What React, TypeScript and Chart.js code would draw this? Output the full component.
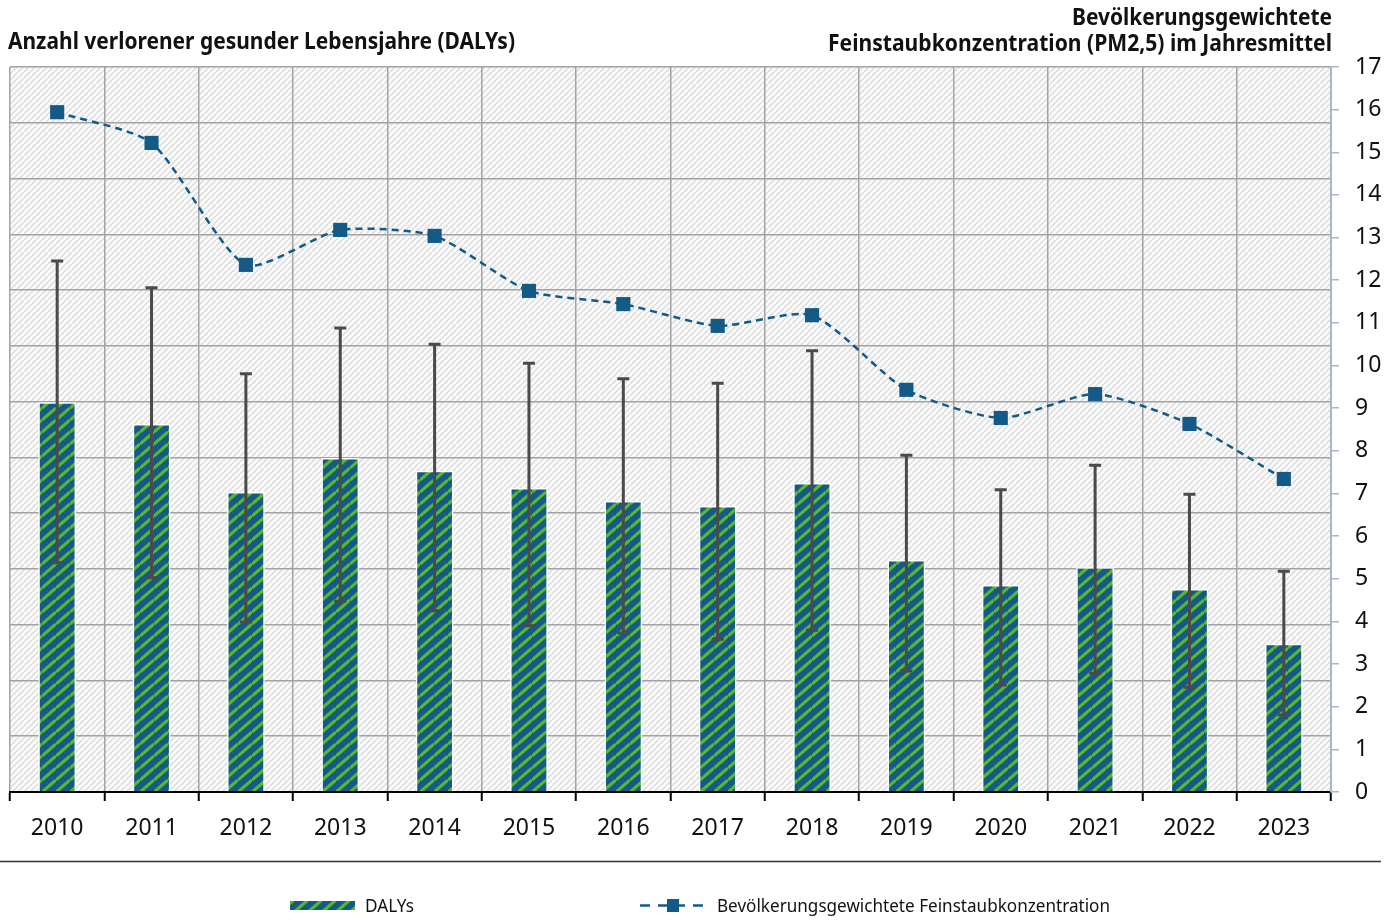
import React, { useEffect, useRef } from "react";
import { Chart, registerables } from "chart.js";

Chart.register(...registerables);

// ---- data ----
const years = ["2010", "2011", "2012", "2013", "2014", "2015", "2016", "2017", "2018", "2019", "2020", "2021", "2022", "2023"];
const dalys = [34950, 33000, 26900, 29950, 28800, 27250, 26100, 25650, 27700, 20800, 18550, 20150, 18200, 13300];
const dalysHigh = [47600, 45200, 37500, 41600, 40150, 38450, 37050, 36650, 39550, 30200, 27100, 29300, 26700, 19800];
const dalysLow = [20550, 19200, 15250, 17100, 16250, 14900, 14250, 13700, 14500, 10850, 9600, 10650, 9400, 6900];
const pm25 = [15.94, 15.22, 12.36, 13.18, 13.04, 11.75, 11.44, 10.93, 11.18, 9.43, 8.77, 9.33, 8.63, 7.34];
const pmTicksMax = 17;
const dalyAxisMax = 65000;
const dalyAxisStep = 5000;

const leftTitle = "Anzahl verlorener gesunder Lebensjahre (DALYs)";
const rightTitle = ["Bevölkerungsgewichtete", "Feinstaubkonzentration (PM2,5) im Jahresmittel"];
const legendLabels = ["DALYs", "Bevölkerungsgewichtete Feinstaubkonzentration"];

const BLUE = "#135b86";
const GREEN = "#5cb531";
const FONT = "'Noto Sans', 'Open Sans', sans-serif";

function makeHatch(bg: string, fg: string, w: number, h: number, lw: number) {
  const c = document.createElement("canvas");
  c.width = w;
  c.height = h;
  const g = c.getContext("2d")!;
  g.fillStyle = bg;
  g.fillRect(0, 0, w, h);
  g.strokeStyle = fg;
  g.lineWidth = lw;
  g.beginPath();
  for (let k = -1; k <= 1; k++) {
    g.moveTo(0, h + h * k);
    g.lineTo(w, h * k);
  }
  g.stroke();
  const ctx = document.createElement("canvas").getContext("2d")!;
  return ctx.createPattern(c, "repeat")!;
}

export default function App() {
  const ref = useRef<HTMLCanvasElement | null>(null);

  useEffect(() => {
    document.body.style.margin = "0";
    const canvas = ref.current!;
    const bgHatch = makeHatch("#fbfbfb", "#dcdcdc", 6, 6, 1.5);
    const barHatch = makeHatch(BLUE, GREEN, 14, 12, 3.2);

    const bgPlugin = {
      id: "bgPlugin",
      beforeDraw(chart: any) {
        const { ctx, chartArea: a } = chart;
        ctx.save();
        ctx.fillStyle = "#ffffff";
        ctx.fillRect(0, 0, chart.width, chart.height);
        ctx.fillStyle = bgHatch;
        ctx.fillRect(a.left, a.top, a.right - a.left, a.bottom - a.top);
        ctx.restore();
      },
    };

    const errPlugin = {
      id: "errPlugin",
      afterDatasetDraw(chart: any, args: any) {
        if (args.index !== 0) return;
        const { ctx } = chart;
        const ys = chart.scales.y;
        const meta = chart.getDatasetMeta(0);
        ctx.save();
        ctx.strokeStyle = "#4a4a4a";
        ctx.lineWidth = 3;
        meta.data.forEach((el: any, i: number) => {
          const x = el.x;
          const yh = ys.getPixelForValue(dalysHigh[i]);
          const yl = ys.getPixelForValue(dalysLow[i]);
          ctx.beginPath();
          ctx.moveTo(x, yh);
          ctx.lineTo(x, yl);
          ctx.moveTo(x - 6, yh);
          ctx.lineTo(x + 6, yh);
          ctx.moveTo(x - 6, yl);
          ctx.lineTo(x + 6, yl);
          ctx.stroke();
        });
        ctx.restore();
      },
    };

    const textPlugin = {
      id: "textPlugin",
      afterDraw(chart: any) {
        const { ctx } = chart;
        ctx.save();
        ctx.fillStyle = "#111";
        ctx.font = `bold 24px ${FONT}`;
        ctx.textBaseline = "alphabetic";
        ctx.textAlign = "left";
        ctx.fillText(leftTitle, 8, 49, 507);
        ctx.textAlign = "right";
        ctx.fillText(rightTitle[0], 1332, 25, 260);
        ctx.fillText(rightTitle[1], 1332, 51, 504);

        // separator
        ctx.strokeStyle = "#333";
        ctx.lineWidth = 1.5;
        ctx.beginPath();
        ctx.moveTo(0, 861.5);
        ctx.lineTo(1381, 861.5);
        ctx.stroke();

        // legend: bars
        ctx.fillStyle = barHatch;
        ctx.fillRect(290, 901, 65, 9);
        ctx.fillStyle = "#111";
        ctx.font = `18px ${FONT}`;
        ctx.textAlign = "left";
        ctx.fillText(legendLabels[0], 365, 912, 49);

        // legend: line
        ctx.strokeStyle = BLUE;
        ctx.lineWidth = 2.5;
        ctx.beginPath();
        ctx.moveTo(640, 905.5);
        ctx.lineTo(650, 905.5);
        ctx.moveTo(658, 905.5);
        ctx.lineTo(685, 905.5);
        ctx.moveTo(693, 905.5);
        ctx.lineTo(703, 905.5);
        ctx.stroke();
        ctx.fillStyle = BLUE;
        ctx.fillRect(667, 899, 12, 13);
        ctx.fillStyle = "#111";
        ctx.fillText(legendLabels[1], 717, 912, 393);
        ctx.restore();
      },
    };

    const chart = new Chart(canvas, {
      data: {
        labels: years,
        datasets: [
          {
            type: "bar",
            label: legendLabels[0],
            data: dalys,
            yAxisID: "y",
            backgroundColor: barHatch as any,
            borderColor: "#ffffff",
            borderWidth: 1.5,
            barPercentage: 0.4,
            categoryPercentage: 1,
            order: 2,
          },
          {
            type: "line",
            label: legendLabels[1],
            data: pm25,
            yAxisID: "y2",
            borderColor: BLUE,
            borderWidth: 2.5,
            borderDash: [7, 5],
            tension: 0.22,
            pointStyle: "rect",
            pointRadius: 10,
            pointBackgroundColor: BLUE,
            pointBorderColor: BLUE,
            pointBorderWidth: 0,
            order: 1,
          },
        ],
      } as any,
      options: {
        responsive: false,
        animation: false,
        layout: { padding: { top: 67, left: 8, right: 0, bottom: 0 } },
        plugins: {
          legend: { display: false },
          tooltip: { enabled: false },
        },
        scales: {
          x: {
            position: "bottom",
            offset: true,
            grid: { color: "#a3a3a3", lineWidth: 1.5, tickColor: "#000", tickLength: 9, tickWidth: 2, offset: true },
            border: { color: "#000", width: 2 },
            ticks: { color: "#111", font: { family: FONT, size: 23 }, padding: 14, maxRotation: 0 },
            afterFit(s: any) {
              s.height = 128;
            },
          },
          y: {
            position: "left",
            min: 0,
            max: dalyAxisMax,
            ticks: { display: false, stepSize: dalyAxisStep },
            grid: { color: "#a3a3a3", lineWidth: 1.5, drawTicks: false },
            border: { display: false },
            afterFit(s: any) {
              s.width = 0;
            },
          },
          y2: {
            position: "right",
            min: 0,
            max: pmTicksMax,
            ticks: { stepSize: 1, color: "#111", font: { family: FONT, size: 23 }, padding: 16 },
            grid: { drawOnChartArea: false, color: "#a6b8cc", lineWidth: 1.5, tickLength: 8 },
            border: { color: "#a6b8cc", width: 2 },
            afterFit(s: any) {
              s.width = 58;
            },
          },
        },
      } as any,
      plugins: [bgPlugin, errPlugin, textPlugin],
    });
    return () => chart.destroy();
  }, []);

  return (
    <div style={{ width: 1389, height: 920 }}>
      <canvas ref={ref} width={1389} height={920} style={{ display: "block" }} />
    </div>
  );
}
